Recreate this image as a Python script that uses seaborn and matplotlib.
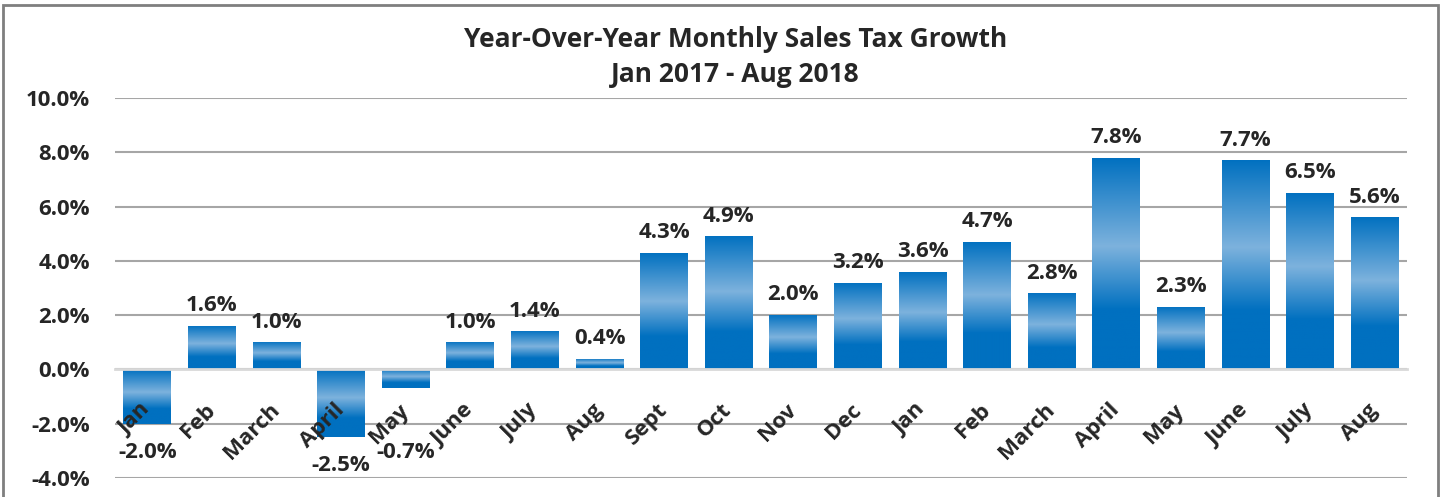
import matplotlib
matplotlib.use('Agg')
import matplotlib.pyplot as plt
import matplotlib.patches as mpatches
from matplotlib.colors import LinearSegmentedColormap
import numpy as np
import pandas as pd
import seaborn as sns

# Data
months = ['Jan', 'Feb', 'March', 'April', 'May', 'June', 'July', 'Aug', 'Sept', 'Oct',
          'Nov', 'Dec', 'Jan', 'Feb', 'March', 'April', 'May', 'June', 'July', 'Aug']
growth = [-2.0, 1.6, 1.0, -2.5, -0.7, 1.0, 1.4, 0.4, 4.3, 4.9,
          2.0, 3.2, 3.6, 4.7, 2.8, 7.8, 2.3, 7.7, 6.5, 5.6]
yticks = [-4, -2, 0, 2, 4, 6, 8, 10]

df = pd.DataFrame({'pos': range(len(months)), 'growth': growth})

sns.set_style('white')
plt.rcParams['font.family'] = ['Open Sans', 'DejaVu Sans']
plt.rcParams['font.weight'] = 'bold'

fig = plt.figure(figsize=(14.42, 4.97), dpi=100)
ax = fig.add_axes([0.0798, 0.0382, 0.8959, 0.7646])

sns.barplot(data=df, x='pos', y='growth', color='#0070C0', width=0.74,
            native_scale=False, ax=ax, zorder=3)

# vertical gradient fill for each bar: dark top, light middle, dark bottom
cmap = LinearSegmentedColormap.from_list(
    'bar', [(0.0, '#0070C0'), (0.42, '#7DB2DD'), (0.72, '#0070C0'), (1.0, '#0070C0')])
grad = np.linspace(0, 1, 256).reshape(-1, 1)
for patch in ax.patches:
    x0, y0 = patch.get_x(), patch.get_y()
    w, h = patch.get_width(), patch.get_height()
    top, bottom = max(y0, y0 + h), min(y0, y0 + h)
    im = ax.imshow(grad, cmap=cmap, aspect='auto', extent=[x0, x0 + w, bottom, top],
                   origin='upper', zorder=3)
    im.set_clip_path(patch)
    patch.set_facecolor('none')
    patch.set_edgecolor('none')

ax.set_xlim(-0.5, len(months) - 0.5)
ax.set_ylim(-4, 10)
ax.set_yticks(yticks)
ax.set_yticklabels([f'{v:.1f}%' for v in yticks], fontsize=16, fontweight='bold')
ax.yaxis.grid(True, color='#A6A6A6', linewidth=1.5)
ax.set_axisbelow(True)
ax.xaxis.set_zorder(6)  # month labels sit on top of the bars
for s in ['top', 'right', 'left']:
    ax.spines[s].set_visible(False)
ax.spines['bottom'].set_position(('data', 0))
ax.spines['bottom'].set_color('#D9D9D9')
ax.spines['bottom'].set_linewidth(2)
ax.spines['bottom'].set_zorder(4)

ax.set_xticks(range(len(months)))
ax.set_xticklabels(months, rotation=45, ha='right', va='center', rotation_mode='anchor',
                   fontsize=16, fontweight='bold')
ax.tick_params(axis='x', length=0, pad=27)
ax.tick_params(axis='y', length=0, pad=18)
ax.set_xlabel('')
ax.set_ylabel('')

# value labels; negative ones pushed below the month labels
for i, v in enumerate(growth):
    if v >= 0:
        ax.annotate(f'{v:.1f}%', (i, v), xytext=(0, 7), textcoords='offset points',
                    ha='center', va='bottom', fontsize=16, fontweight='bold', zorder=6)
    else:
        ax.annotate(f'{v:.1f}%', (i, min(v, -2.0)), xytext=(0, -13), textcoords='offset points',
                    ha='center', va='top', fontsize=16, fontweight='bold', zorder=6)

fig.suptitle('Year-Over-Year Monthly Sales Tax Growth\nJan 2017 - Aug 2018',
             x=0.51, y=0.947, fontsize=19, fontweight='bold', linespacing=1.35)

# outer chart border
fig.patches.append(mpatches.Rectangle((0.002, -0.02), 0.995, 1.01, transform=fig.transFigure,
                                      fill=False, edgecolor='#7F7F7F', linewidth=2))

fig.savefig('out.png', dpi=100)
